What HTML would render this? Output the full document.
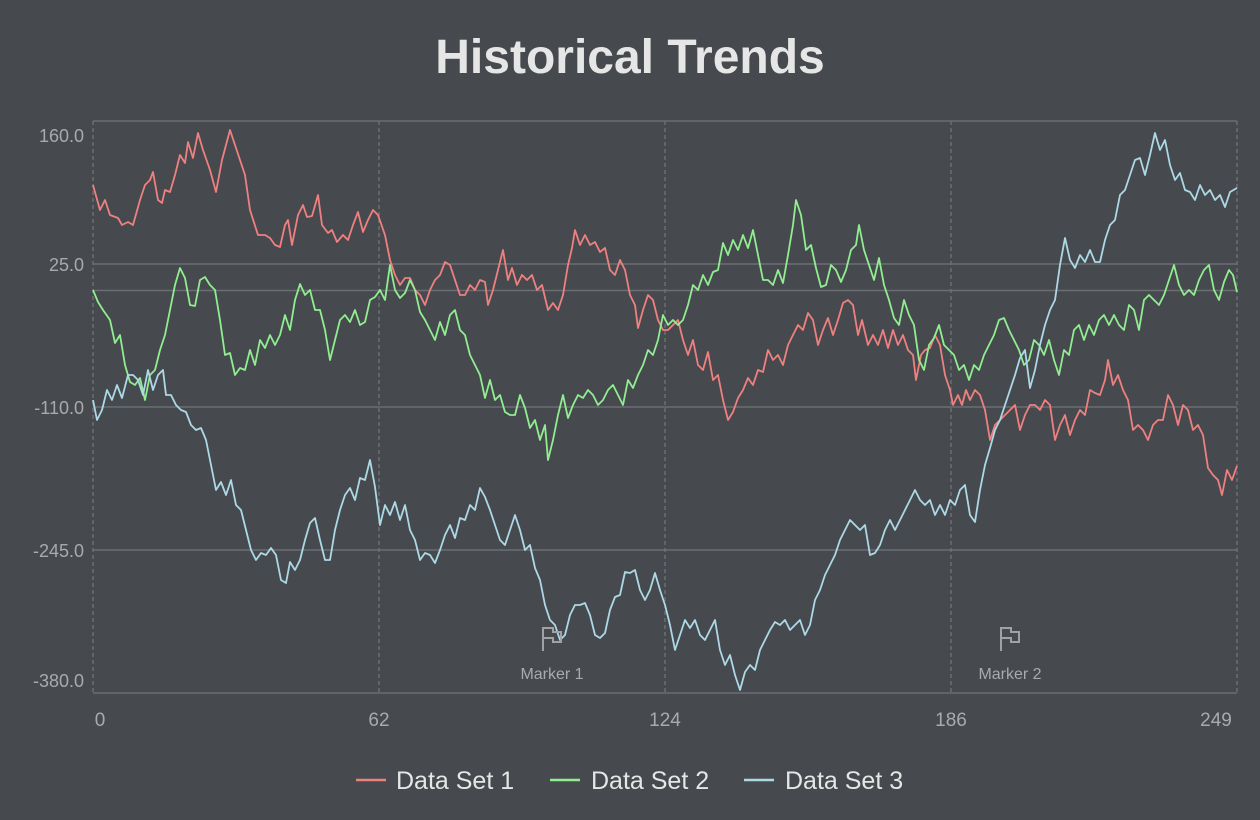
<!DOCTYPE html><html><head><meta charset="utf-8"><style>
body{margin:0;background:#464a4e;}
svg{display:block;font-family:"Liberation Sans",sans-serif;}
</style></head><body>
<svg width="1260" height="820" viewBox="0 0 1260 820">
<rect width="1260" height="820" fill="#464a4e"/>
<text x="630" y="73" text-anchor="middle" font-size="48" font-weight="bold" fill="#e6e6e6">Historical Trends</text>
<g stroke="#6a6e72" stroke-width="1.5">
<line x1="93" y1="121" x2="1237" y2="121"/>
<line x1="93" y1="264" x2="1237" y2="264"/>
<line x1="93" y1="290.5" x2="1237" y2="290.5"/>
<line x1="93" y1="407" x2="1237" y2="407"/>
<line x1="93" y1="550" x2="1237" y2="550"/>
<line x1="93" y1="693" x2="1237" y2="693"/>
</g>
<g stroke="#707478" stroke-width="1.3" stroke-dasharray="4,3">
<line x1="93" y1="121" x2="93" y2="693"/>
<line x1="379" y1="121" x2="379" y2="693"/>
<line x1="665" y1="121" x2="665" y2="693"/>
<line x1="951" y1="121" x2="951" y2="693"/>
<line x1="1237" y1="121" x2="1237" y2="693"/>
</g>
<g fill="#a8aaac" font-size="18" text-anchor="end">
<text x="84" y="142">160.0</text>
<text x="84" y="271">25.0</text>
<text x="84" y="414">-110.0</text>
<text x="84" y="557">-245.0</text>
<text x="84" y="687">-380.0</text>
</g>
<g fill="#a8aaac" font-size="19" text-anchor="middle">
<text x="100" y="726">0</text>
<text x="379" y="726">62</text>
<text x="665" y="726">124</text>
<text x="951" y="726">186</text>
<text x="1216" y="726">249</text>
</g>
<g fill="none" stroke-width="1.8" stroke-linejoin="round">
<polyline stroke="#f08080" points="93,185 100,210 105,200 110,215 118,218 122,225 128,222 133,225 140,200 145,185 150,180 153,172 158,200 162,203 165,190 170,192 175,175 180,155 185,163 188,142 193,158 198,133 203,150 210,170 216,192 222,160 230,130 235,145 240,160 245,175 250,210 258,235 265,235 270,238 275,245 280,247 285,225 288,220 292,245 298,215 303,205 307,217 312,216 318,195 322,225 328,233 332,230 337,242 343,235 348,240 353,225 358,212 363,232 368,220 373,210 378,215 385,235 390,260 395,275 400,285 405,278 410,278 415,290 420,295 425,305 430,290 435,280 440,275 445,262 450,265 455,280 460,295 465,295 470,285 475,290 480,280 485,282 488,305 493,290 498,270 503,250 508,280 512,268 517,285 522,275 527,280 532,275 537,290 542,285 548,310 553,303 558,310 563,295 568,265 572,248 575,230 580,245 585,235 590,245 595,242 600,252 605,248 610,270 615,275 620,260 625,270 630,295 635,305 638,328 643,310 648,295 653,300 658,320 663,330 668,330 673,325 678,320 683,340 688,355 693,340 698,365 703,370 708,352 713,380 718,375 723,400 728,420 733,412 738,398 743,390 748,378 753,385 758,370 763,372 768,350 773,360 778,355 783,365 788,345 793,335 798,325 803,330 808,313 813,320 818,345 823,330 828,318 833,335 838,320 843,303 848,300 853,305 858,335 862,320 868,345 873,335 878,345 883,330 888,348 893,330 898,345 903,335 908,350 913,355 916,380 921,355 925,350 930,348 935,335 940,345 945,375 950,390 953,405 958,395 962,405 966,390 970,400 975,390 980,395 985,410 990,440 995,425 1000,420 1005,415 1010,410 1015,405 1020,430 1025,415 1030,405 1035,405 1040,410 1045,400 1050,405 1055,440 1060,425 1065,415 1070,435 1075,420 1080,410 1085,415 1090,390 1095,393 1100,395 1105,380 1108,360 1113,385 1118,375 1123,390 1128,400 1133,430 1138,425 1143,430 1148,440 1153,425 1158,420 1163,420 1168,395 1173,405 1178,425 1183,405 1188,410 1193,430 1198,425 1203,435 1208,468 1213,475 1218,480 1222,495 1227,470 1232,480 1237,466"/>
<polyline stroke="#90ee90" points="93,290 98,302 103,310 110,320 115,343 120,335 125,365 130,382 135,385 140,378 145,400 150,375 155,370 160,350 165,335 170,310 175,285 180,268 185,278 190,305 195,306 200,280 205,277 210,285 215,290 220,320 225,355 230,353 235,375 240,368 245,370 250,350 255,365 260,340 265,348 270,335 275,345 280,335 285,315 290,330 295,300 300,284 305,295 310,290 315,310 320,310 325,330 330,360 335,340 340,320 345,315 350,322 355,310 360,325 365,322 370,300 375,297 380,290 385,300 390,265 395,290 400,298 405,293 410,280 415,290 420,312 425,320 430,330 435,340 440,322 445,335 450,315 455,310 460,330 465,335 470,355 475,365 480,375 485,398 490,380 495,400 500,395 505,412 510,415 515,415 520,395 525,408 530,428 535,420 540,440 545,425 548,460 553,440 558,415 563,395 568,418 573,405 578,395 583,398 588,390 593,395 598,405 603,400 608,390 613,385 618,395 623,405 628,380 633,388 638,375 643,365 648,350 653,355 658,340 663,315 668,325 673,320 678,325 683,320 688,305 693,285 698,290 703,275 708,285 713,272 718,270 723,243 728,255 733,240 738,250 743,235 748,248 753,230 758,255 763,280 768,280 773,285 778,270 783,283 788,255 793,225 796,200 801,215 806,250 811,245 816,268 821,287 826,285 831,265 836,270 841,282 846,270 851,250 856,245 859,225 864,250 869,265 874,280 879,258 884,285 889,300 894,318 899,325 904,300 909,315 914,325 919,360 924,370 929,345 934,338 939,325 944,345 949,350 954,355 959,370 964,365 969,380 974,365 979,370 984,355 989,345 994,335 999,320 1004,318 1009,330 1014,340 1019,350 1024,365 1029,360 1034,340 1039,345 1044,355 1049,340 1054,360 1059,375 1064,350 1069,355 1074,330 1079,325 1084,340 1089,325 1094,335 1099,320 1104,315 1109,325 1114,315 1119,325 1124,330 1129,305 1134,310 1139,330 1144,300 1149,295 1154,300 1159,305 1164,295 1169,280 1174,265 1179,285 1184,295 1189,290 1194,295 1199,280 1204,270 1209,265 1214,290 1219,300 1224,282 1229,270 1233,275 1237,292"/>
<polyline stroke="#add8e6" points="93,400 97,420 102,410 107,390 112,400 117,385 122,398 128,375 133,375 138,380 143,395 148,370 153,390 158,375 163,370 166,395 171,395 176,405 181,410 186,412 191,425 196,430 201,428 206,440 211,465 216,490 221,482 226,495 231,480 236,505 241,510 246,530 251,550 256,560 261,553 266,555 271,548 276,555 281,580 286,583 290,562 295,570 300,560 305,540 310,523 315,518 320,540 325,560 330,560 335,530 340,510 345,495 350,488 355,500 360,478 365,480 370,460 375,487 380,525 385,505 390,515 395,502 400,520 405,505 410,530 415,540 420,560 425,553 430,555 435,563 440,550 445,535 450,525 455,538 460,518 465,520 470,505 475,510 480,488 485,497 490,510 495,525 500,540 505,545 510,530 515,515 520,530 525,550 530,545 535,568 540,580 545,605 550,620 555,625 560,640 565,635 570,615 575,605 580,605 585,603 590,615 595,635 600,638 605,633 610,610 615,597 620,595 625,572 630,573 635,570 640,590 645,600 650,590 655,573 660,590 665,605 670,625 675,650 680,635 685,620 690,628 695,620 700,635 705,640 710,630 715,620 720,650 725,665 730,655 735,675 740,690 745,672 750,665 755,670 760,650 765,640 770,630 775,622 780,625 785,620 790,630 795,625 800,620 805,635 810,625 815,600 820,590 825,575 830,565 835,555 840,540 845,530 850,520 855,525 860,530 865,525 870,555 875,553 880,545 885,530 890,520 895,530 900,520 905,510 910,500 915,490 920,500 925,505 930,500 935,515 940,505 945,515 950,500 955,505 960,490 965,485 970,515 975,522 980,490 985,465 990,448 995,430 1000,420 1005,405 1010,390 1015,375 1020,358 1025,350 1030,388 1035,370 1040,345 1045,325 1050,310 1055,300 1060,265 1065,238 1070,260 1075,268 1080,255 1085,262 1090,250 1095,262 1100,262 1105,240 1110,225 1115,220 1120,195 1125,190 1130,175 1135,160 1140,158 1145,175 1150,155 1155,133 1160,150 1165,140 1170,165 1175,180 1180,173 1185,190 1190,192 1195,200 1200,185 1205,195 1210,190 1215,200 1220,195 1225,207 1230,192 1237,188"/>
</g>
<g fill="none" stroke="#a0a2a4" stroke-width="2">
<path d="M543,651 V628 H553 V632 H561 V642 H553 V638 H543"/>
<path d="M1001,651 V628 H1011 V632 H1019 V642 H1011 V638 H1001"/>
</g>
<g fill="#a8aaac" font-size="16" text-anchor="middle">
<text x="552" y="679">Marker 1</text>
<text x="1010" y="679">Marker 2</text>
</g>
<g font-size="25" fill="#e6e6e6">
<line x1="356" y1="780" x2="386" y2="780" stroke="#f08080" stroke-width="2.5"/>
<text x="396" y="789">Data Set 1</text>
<line x1="550" y1="780" x2="580" y2="780" stroke="#90ee90" stroke-width="2.5"/>
<text x="591" y="789">Data Set 2</text>
<line x1="744" y1="780" x2="774" y2="780" stroke="#add8e6" stroke-width="2.5"/>
<text x="785" y="789">Data Set 3</text>
</g>
</svg>
</body></html>
